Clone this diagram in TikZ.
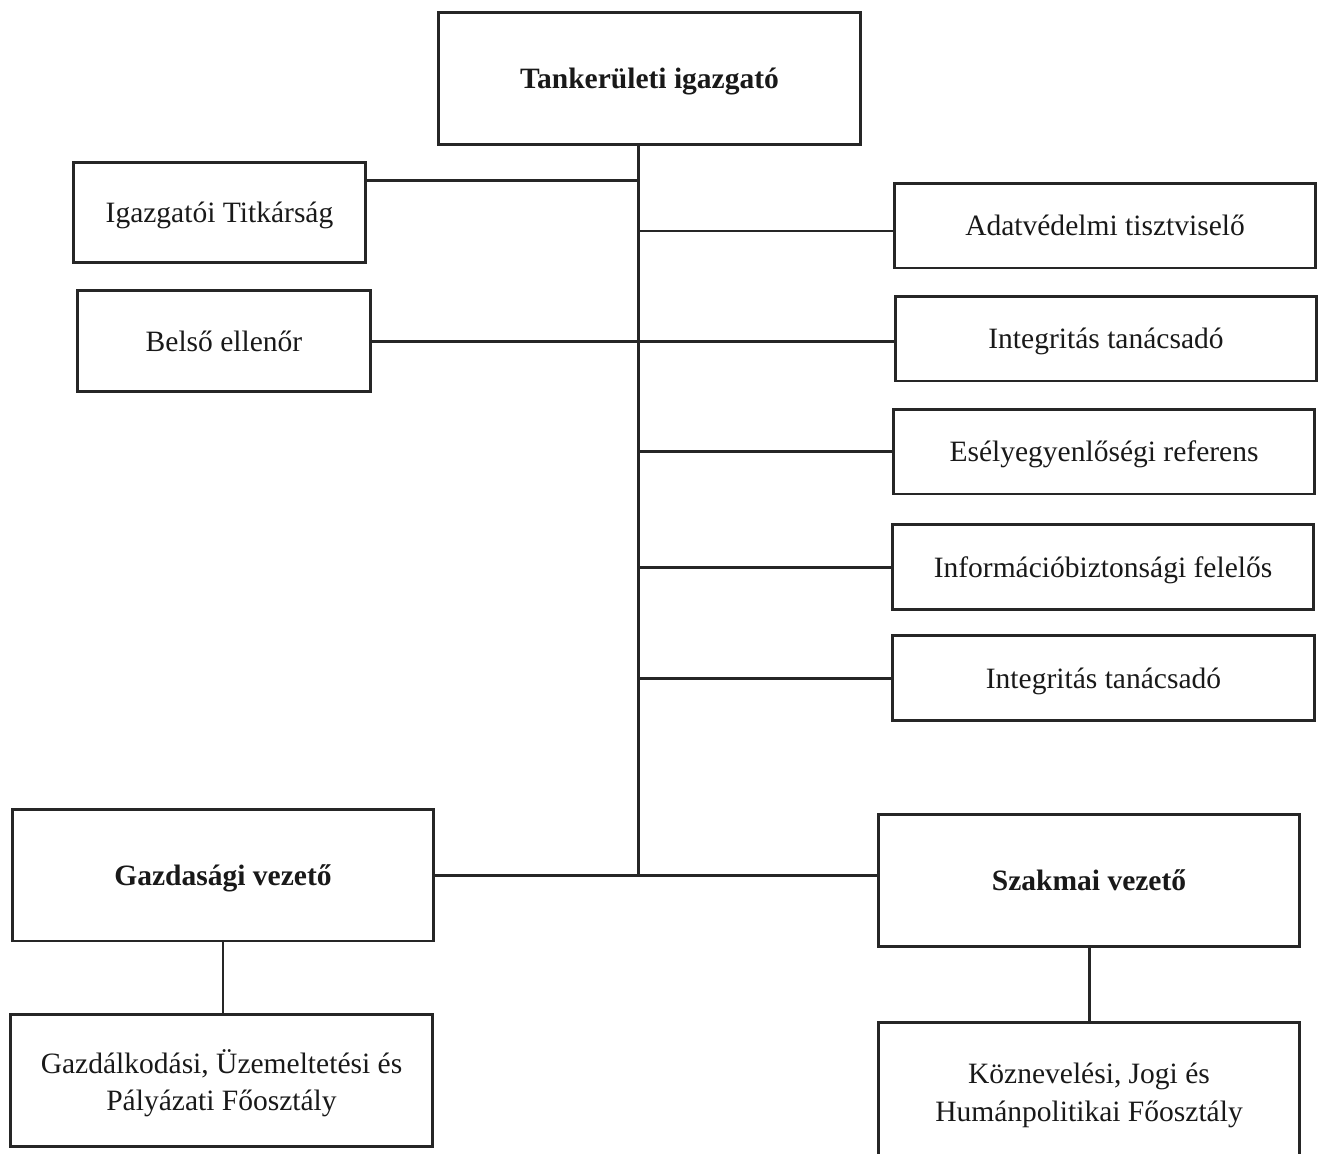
\documentclass[tikz,border=0pt]{standalone}
\usepackage{fontspec}
\setmainfont{Liberation Serif}
\usetikzlibrary{positioning}
\usetikzlibrary{calc}

\begin{document}
\begin{tikzpicture}[x=0.02cm,y=-0.02cm,
box_style/.style={draw=black!85,line width=1.7pt,rectangle,inner sep=2pt,
  align=center,text=black!90,text depth=0pt,font=\fontsize{16.8}{21.5}\selectfont},
head_style/.style={box_style,minimum width=8.44cm,minimum height=2.64cm,
  font=\fontsize{16.8}{21.5}\selectfont\bfseries},
side_style/.style={box_style,minimum width=8.44cm,minimum height=1.7cm},
left_style/.style={box_style,minimum width=5.85cm,minimum height=2.01cm},
edge_style/.style={draw=black!85,line width=1.7pt}]
\useasboundingbox (0,0) rectangle (1324,1153);

\node[head_style,minimum width=8.46cm,minimum height=2.66cm] (director) at (649.5,78.5) {Tankerületi igazgató};
\coordinate (trunk) at (638,876);

\node[left_style] (titk) at (219.5,212.5) {Igazgatói Titkárság};
\node[left_style] (belso) at (224,341) {Belső ellenőr};

\foreach \x/\y/\n/\t in {1105/225.5/adat/Adatvédelmi tisztviselő,
  1106/338.5/integ1/Integritás tanácsadó,
  1104/451.5/esely/Esélyegyenlőségi referens,
  1103/567/info/Információbiztonsági felelős,
  1103.5/678/integ2/Integritás tanácsadó}{
 \node[side_style] (\n) at (\x,\y) {\t};
}

\node[head_style] (gazd) at (223,875) {Gazdasági vezető};
\node[head_style] (szak) at (1089,880.5) {Szakmai vezető};
\node[box_style,minimum width=8.46cm,minimum height=2.64cm] (gazdfo) at (221.5,1080)
  {Gazdálkodási, Üzemeltetési és\\Pályázati Főosztály};
\node[box_style,minimum width=8.44cm,minimum height=2.8cm] (kozn) at (1089,1092)
  {Köznevelési, Jogi és\\Humánpolitikai Főosztály};

% trunk and branches
\draw[edge_style] (director.south -| trunk) -- (trunk);
\coordinate (titkpt) at ([yshift=-0.4cm]titk.north east);
\draw[edge_style] (titkpt) -- (titkpt -| trunk);
\draw[edge_style] (belso.east) -- (belso.east -| integ1.west);
\coordinate (adatpt) at ([yshift=-0.11cm]adat.west);
\draw[edge_style] (adatpt -| trunk) -- (adatpt);
\foreach \n in {esely,info,integ2}{
 \draw[edge_style] (\n.west -| trunk) -- (\n.west);
}
\draw[edge_style] (gazd.east) -- (gazd.east -| szak.west);

\draw[edge_style] (gazd.south) -- (gazd.south |- gazdfo.north);
\draw[edge_style] (szak.south) -- (kozn.north);
\end{tikzpicture}
\end{document}
